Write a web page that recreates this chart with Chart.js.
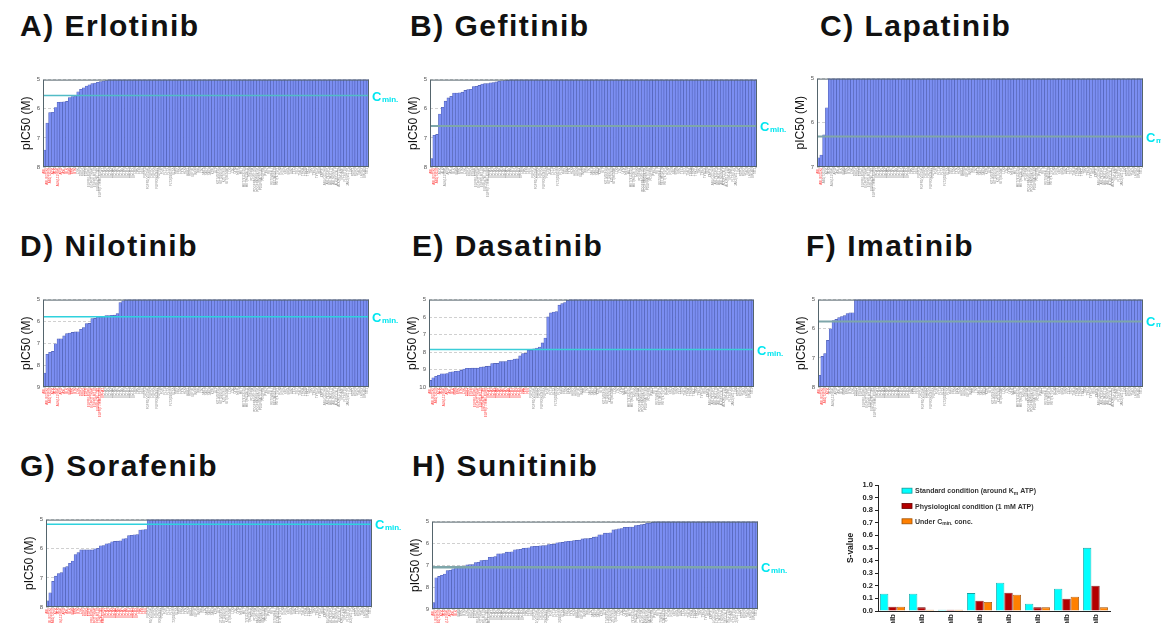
<!DOCTYPE html>
<html>
<head>
<meta charset="utf-8">
<script src="https://cdn.jsdelivr.net/npm/chart.js@4.4.0/dist/chart.umd.min.js"></script>
<style>
html, body { margin: 0; padding: 0; background: #fff; overflow: hidden; width: 1161px; height: 623px; }
.title { position: absolute; font: bold 30px "Liberation Sans", Arial, sans-serif; line-height: 30px; letter-spacing: 1.5px; color: #111; white-space: nowrap; }
canvas { position: absolute; }
</style>
</head>
<body>
<script>
// kinase panel (tick labels under each profile)
const kinases = ['ABL','ABL(E255K)','ABL(T315I)','ACK','ALK','ALK(L1196M)','ARG','AXL','BLK','BMX','BRK','BTK','CSK','DDR1','DDR2',
  'EGFR','EGFR(L858R)','EGFR(T790M)','EGFR(L861Q)','EGFR(d746-750)','EGFR(T790M/L858R)','EPHA1','EPHA2','EPHA3','EPHA4','EPHA5',
  'EPHA6','EPHA7','EPHA8','EPHB1','EPHB2','EPHB3','EPHB4','FAK','FER','FES','FGFR1','FGFR1(V561M)','FGFR2','FGFR3','FGFR3(K650E)',
  'FGFR4','FGR','FLT1','FLT3','FLT3(D835Y)','FLT4','FMS','FRK','FYN','HCK','HER2','HER4','IGF1R','INSR','IRR','ITK','JAK1','JAK2',
  'JAK3','KDR','KIT','KIT(V560G)','KIT(D816V)','KIT(T670I)','KIT(V654A)','LCK','LTK','LYN','MER','MET','MET(Y1235D)','MET(M1250T)',
  'MUSK','PDGFRA','PDGFRA(V561D)','PDGFRA(D842V)','PDGFRA(T674I)','PDGFRB','PYK2','RET','RET(V804L)','RET(M918T)','RET(Y791F)',
  'RON','ROS','SRC','SRM','SYK','TEC','TIE2','TNK1','TRKA','TRKB','TRKC','TXK','TYK2','TYRO3','YES','ZAP70','ABL(Q252H)',
  'ABL(Y253F)','ABL(M351T)','ABL(H396P)','ALK(F1174L)','ALK(R1275Q)','EPHA10','FLT3(ITD)','JAK2(V617F)','LOK','ROR1','ROR2',
  'TNK2','LMTK3','EPHB6','TIE1'];

// pIC50 of the kinases reached by each drug (sorted); every other kinase sits at the 10 uM floor
const inactive = 5;
const erlotinib = [7.42, 6.49, 6.13, 6.12, 5.96, 5.78, 5.77, 5.76, 5.75, 5.62, 5.58, 5.56, 5.42, 5.33, 5.28, 5.22, 5.18, 5.14, 5.12, 5.09, 5.07, 5.05, 5.03];
const gefitinib = [7.71, 6.91, 6.88, 6.18, 5.95, 5.74, 5.63, 5.57, 5.46, 5.46, 5.45, 5.43, 5.37, 5.34, 5.33, 5.24, 5.23, 5.20, 5.15, 5.14, 5.14, 5.11, 5.10, 5.08, 5.06, 5.04, 5.03, 5.02];
const lapatinib = [6.79, 6.73, 6.27, 5.66];
const nilotinib = [8.36, 7.50, 7.41, 7.37, 7.02, 6.80, 6.79, 6.66, 6.56, 6.53, 6.50, 6.48, 6.47, 6.36, 6.28, 6.10, 6.09, 5.87, 5.86, 5.80, 5.80, 5.79, 5.73, 5.73, 5.72, 5.71, 5.64, 5.14, 5.06];
const dasatinib = [9.62, 9.47, 9.39, 9.33, 9.24, 9.24, 9.23, 9.14, 9.13, 9.10, 9.09, 9.05, 8.97, 8.93, 8.93, 8.92, 8.92, 8.92, 8.86, 8.85, 8.82, 8.81,
  8.66, 8.65, 8.65, 8.55, 8.54, 8.54, 8.47, 8.46, 8.40, 8.39, 8.22, 8.09, 8.07, 7.90, 7.89, 7.81, 7.77, 7.71, 7.48, 7.20, 5.99, 5.76, 5.71, 5.69,
  5.32, 5.23, 5.17, 5.04];
const imatinib = [7.60, 6.95, 6.85, 6.40, 6.00, 5.72, 5.68, 5.62, 5.58, 5.55, 5.48, 5.45, 5.45];
const sorafenib = [7.79, 7.51, 7.12, 6.94, 6.85, 6.82, 6.65, 6.61, 6.50, 6.42, 6.20, 6.13, 6.04, 6.04, 6.04, 6.04, 6.04, 6.00, 5.99, 5.90, 5.89,
  5.83, 5.82, 5.76, 5.75, 5.74, 5.73, 5.66, 5.65, 5.55, 5.54, 5.52, 5.51, 5.36, 5.35, 5.34];
const sunitinib = [8.71, 7.57, 7.51, 7.46, 7.40, 7.24, 7.23, 7.16, 7.10, 7.04, 7.04, 7.03, 6.98, 6.97, 6.97, 6.87, 6.86, 6.78, 6.77, 6.76,
  6.63, 6.62, 6.60, 6.48, 6.47, 6.46, 6.40, 6.39, 6.38, 6.29, 6.28, 6.27, 6.22, 6.21, 6.20, 6.14, 6.13, 6.13, 6.11, 6.10, 6.10, 6.05, 6.04, 6.03,
  5.97, 5.96, 5.95, 5.91, 5.90, 5.89, 5.87, 5.86, 5.85, 5.79, 5.78, 5.78, 5.77, 5.71, 5.70, 5.61, 5.60, 5.53, 5.52, 5.51, 5.38, 5.37, 5.33, 5.32,
  5.26, 5.26, 5.25, 5.25, 5.18, 5.17, 5.14, 5.13, 5.08, 5.07, 5.03];

// Cmin (as pIC50), axis bottom and number of red (inhibited) kinase labels
const cminValues = [5.55, 6.59, 6.31, 5.78, 7.86, 5.75, 5.16, 7.09];
const axisBottoms = [8, 8, 7, 9, 10, 8, 8, 9];
const redCounts = [12, 3, 2, 22, 36, 4, 36, 9];

// S-value chart
const drugs = ['Erlotinib', 'Gefitinib', 'Lapatinib', 'Nilotinib', 'Dasatinib', 'Imatinib', 'Sorafenib', 'Sunitinib'];
const sStandard = [0.137, 0.137, 0.010, 0.142, 0.224, 0.058, 0.177, 0.501];
const sPhysio = [0.034, 0.029, 0.010, 0.082, 0.145, 0.029, 0.098, 0.200];
const sCmin = [0.034, 0.010, 0.010, 0.071, 0.129, 0.029, 0.113, 0.029];

const FONT = '"Liberation Sans", Arial, sans-serif';
Chart.defaults.font.family = FONT;
Chart.defaults.animation = false;

const panels = [
  { title: 'A) Erlotinib', vals: erlotinib, t: [20, 36],  plot: [43, 79, 369, 167],   line: '#52bcc6', lw: 1.5 },
  { title: 'B) Gefitinib', vals: gefitinib, t: [410, 36], plot: [430, 79, 757, 167],  line: '#7ea6aa', lw: 2 },
  { title: 'C) Lapatinib', vals: lapatinib, t: [820, 36], plot: [817, 78, 1143, 167], line: '#80a6a8', lw: 2 },
  { title: 'D) Nilotinib', vals: nilotinib, t: [20, 256], plot: [43, 299, 369, 387],  line: '#2fd2dd', lw: 1.5 },
  { title: 'E) Dasatinib', vals: dasatinib, t: [412, 256], plot: [429, 299, 754, 387], line: '#3ccdd8', lw: 1.5 },
  { title: 'F) Imatinib',  vals: imatinib,  t: [806, 256], plot: [818, 299, 1143, 387], line: '#7ea6aa', lw: 2 },
  { title: 'G) Sorafenib', vals: sorafenib, t: [20, 476], plot: [46, 519, 372, 607],  line: '#2fd2dd', lw: 1.5 },
  { title: 'H) Sunitinib', vals: sunitinib, t: [412, 476], plot: [432, 521, 758, 609], line: '#7ea6aa', lw: 2.5 }
];

// Cmin line, plot frame and the "Cmin." tag at the right
const panelDecor = {
  id: 'panelDecor',
  afterDatasetsDraw(chart, args, opts) {
    const { ctx, chartArea: a } = chart;
    const yy = chart.scales.y.getPixelForValue(opts.cmin);
    ctx.save();
    ctx.strokeStyle = opts.color;
    ctx.lineWidth = opts.width;
    ctx.beginPath();
    ctx.moveTo(a.left, yy);
    ctx.lineTo(a.right, yy);
    ctx.stroke();
    ctx.strokeStyle = '#55656d';
    ctx.lineWidth = 1;
    ctx.strokeRect(a.left + 0.5, a.top + 0.5, a.right - a.left - 1, a.bottom - a.top - 1);
    ctx.fillStyle = '#00e6f0';
    ctx.font = 'bold 13px ' + FONT;
    ctx.fillText('C', a.right + 3, yy + 5);
    const w = ctx.measureText('C').width;
    ctx.font = 'bold 8px ' + FONT;
    ctx.fillText('min.', a.right + 3 + w + 0.5, yy + 6);
    ctx.restore();
  }
};

function addCanvas(left, top, w, h) {
  const cv = document.createElement('canvas');
  cv.width = w; cv.height = h;
  cv.style.left = left + 'px';
  cv.style.top = top + 'px';
  document.body.appendChild(cv);
  return cv;
}

panels.forEach((p, i) => {
  const div = document.createElement('div');
  div.className = 'title';
  div.textContent = p.title;
  div.style.left = p.t[0] + 'px';
  div.style.top = (p.t[1] - 25) + 'px';
  document.body.appendChild(div);

  const [pl, pt, pr, pb] = p.plot;
  const axisW = 24, padTop = 6, xAxisH = 40, padRight = 45;
  const left = pl - axisW, top = pt - padTop;
  const cv = addCanvas(left, top, pr - left + padRight, pb - top + xAxisH);
  const yMax = axisBottoms[i];
  const vals = kinases.map((k, j) => j < p.vals.length ? p.vals[j] : inactive);

  new Chart(cv, {
    type: 'bar',
    data: {
      labels: kinases,
      datasets: [{
        data: vals.map(v => [yMax, v]),
        backgroundColor: '#7b8ef2',
        borderColor: '#4e5eb0',
        borderWidth: 0.6,
        borderSkipped: false,
        barPercentage: 1,
        categoryPercentage: 1
      }]
    },
    options: {
      responsive: false,
      layout: { padding: { top: padTop, right: padRight, left: 0, bottom: 0 } },
      plugins: {
        legend: { display: false },
        tooltip: { enabled: false },
        panelDecor: { cmin: cminValues[i], color: p.line, width: p.lw }
      },
      scales: {
        x: {
          grid: { display: false, drawTicks: false },
          border: { display: false },
          ticks: {
            autoSkip: false, minRotation: 90, maxRotation: 90, padding: 1,
            font: { size: 3 },
            color: ctx => ctx.index < redCounts[i] ? '#ff3030' : '#8a8a8a'
          },
          afterFit(scale) { scale.height = xAxisH; }
        },
        y: {
          reverse: true, min: 5, max: yMax,
          grid: { color: '#c4c4c4', lineWidth: 0.8, drawTicks: false },
          border: { display: false, dash: [3, 2] },
          ticks: { stepSize: 1, padding: 3, font: { size: 6 }, color: '#555' },
          title: { display: true, text: 'pIC50 (M)', font: { size: 12 }, color: '#111', padding: 0 },
          afterFit(scale) { scale.width = axisW; }
        }
      }
    },
    plugins: [panelDecor]
  });
});

// legend of the S-value chart (drawn so the subscripts can be kept)
const legendRows = [
  { fill: '#00ffff', stroke: '#119a9a', parts: [['Standard condition (around K', 0], ['m', 1], [' ATP)', 0]] },
  { fill: '#b30000', stroke: '#6a0000', parts: [['Physiological condition (1 mM ATP)', 0]] },
  { fill: '#ff8000', stroke: '#a04f00', parts: [['Under C', 0], ['min.', 1], [' conc.', 0]] }
];
const sLegend = {
  id: 'sLegend',
  afterDraw(chart) {
    const { ctx, chartArea: a } = chart;
    ctx.save();
    legendRows.forEach((r, k) => {
      const cy = a.top + 5.7 + k * 15.3;
      ctx.fillStyle = r.fill;
      ctx.strokeStyle = r.stroke;
      ctx.lineWidth = 0.8;
      ctx.fillRect(a.left + 24, cy - 2.5, 10, 5);
      ctx.strokeRect(a.left + 24, cy - 2.5, 10, 5);
      let x = a.left + 37;
      ctx.fillStyle = '#333';
      r.parts.forEach(([txt, sub]) => {
        ctx.font = 'bold ' + (sub ? 5 : 7) + 'px ' + FONT;
        ctx.fillText(txt, x, cy + (sub ? 4 : 2.5));
        x += ctx.measureText(txt).width;
      });
    });
    ctx.restore();
  }
};

const sAxisW = 32, sPadTop = 7, sXAxisH = 50;
const sCanvas = addCanvas(846, 478, 269, 183);
new Chart(sCanvas, {
  type: 'bar',
  data: {
    labels: drugs,
    datasets: [
      { data: sStandard, backgroundColor: '#00ffff', borderColor: '#16a3a3' },
      { data: sPhysio, backgroundColor: '#b30000', borderColor: '#6a0000' },
      { data: sCmin, backgroundColor: '#ff8000', borderColor: '#a04f00' }
    ]
  },
  options: {
    responsive: false,
    layout: { padding: { top: sPadTop, right: 5, left: 0, bottom: 0 } },
    datasets: { bar: { borderWidth: 0.8, barPercentage: 1, categoryPercentage: 0.86 } },
    plugins: { legend: { display: false }, tooltip: { enabled: false } },
    scales: {
      x: {
        grid: { display: false, drawTicks: false },
        border: { display: true, color: '#222', width: 1 },
        ticks: { autoSkip: false, minRotation: 90, maxRotation: 90, padding: 3, font: { size: 8, weight: 'bold' }, color: '#222' },
        afterFit(scale) { scale.height = sXAxisH; }
      },
      y: {
        min: 0, max: 1,
        grid: { drawOnChartArea: false, drawTicks: true, tickLength: 3, color: '#222' },
        border: { display: true, color: '#222', width: 1 },
        ticks: { stepSize: 0.1, padding: 2, font: { size: 7.5, weight: 'bold' }, color: '#222', callback: v => v.toFixed(1) },
        title: { display: true, text: 'S-value', font: { size: 8.5, weight: 'bold' }, color: '#222', padding: 0 },
        afterFit(scale) { scale.width = sAxisW; }
      }
    }
  },
  plugins: [sLegend]
});
</script>
</body>
</html>
